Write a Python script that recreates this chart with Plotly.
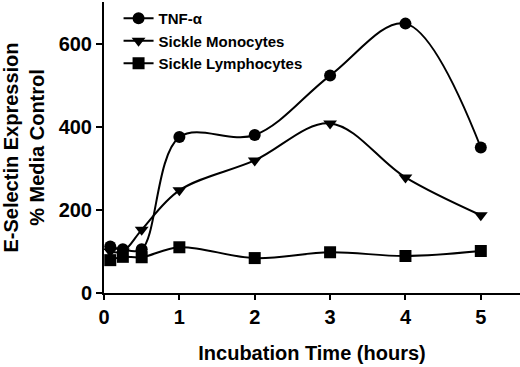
import plotly.graph_objects as go

times = [0.083, 0.25, 0.5, 1, 2, 3, 4, 5]
tnf = [112, 105, 105, 375, 380, 523, 648, 350]
mono = [100, 100, 152, 247, 319, 408, 278, 187]
lymph = [79, 87, 86, 110, 84, 98, 89, 101]

series = [
    ("TNF-α", tnf, "circle"),
    ("Sickle Monocytes", mono, "triangle-down"),
    ("Sickle Lymphocytes", lymph, "square"),
]

fig = go.Figure()
for name, vals, sym in series:
    fig.add_trace(go.Scatter(
        x=times, y=vals, name=name, mode="lines+markers",
        line=dict(color="black", width=2, shape="spline", smoothing=1.0),
        marker=dict(symbol=sym, size=12, color="black"),
    ))

FAM = "Liberation Sans, Arial, sans-serif"

fig.update_layout(
    width=520, height=367,
    margin=dict(l=104, r=0, t=2, b=74),
    paper_bgcolor="white", plot_bgcolor="white",
    font=dict(family=FAM, size=20, color="black"),
    showlegend=True,
    legend=dict(x=0.035, y=1.0, xanchor="left", yanchor="top",
                font=dict(family=FAM, size=15, color="black", weight="bold"),
                bgcolor="rgba(0,0,0,0)", tracegroupgap=0),
    xaxis=dict(
        range=[0, 5.52], tickvals=[0, 1, 2, 3, 4, 5],
        showline=True, linecolor="black", linewidth=2,
        ticks="outside", ticklen=5, tickwidth=2, tickcolor="black",
        showgrid=False, zeroline=False, automargin=False,
        tickfont=dict(size=20, weight="bold"),
        title=dict(text="Incubation Time (hours)", font=dict(size=20, weight="bold"), standoff=19),
    ),
    yaxis=dict(
        range=[0, 700], tickvals=[0, 200, 400, 600],
        showline=True, linecolor="black", linewidth=2,
        ticks="outside", ticklen=6, tickwidth=2, tickcolor="black",
        showgrid=False, zeroline=False, automargin=False,
        tickfont=dict(size=20, weight="bold"),
        title=dict(text="E-Selectin Expression<br>% Media Control", font=dict(size=20, weight="bold"), standoff=10),
    ),
)

fig.write_html("out.html", config={"displayModeBar": False},
               post_script="document.body.style.margin='0px';")
